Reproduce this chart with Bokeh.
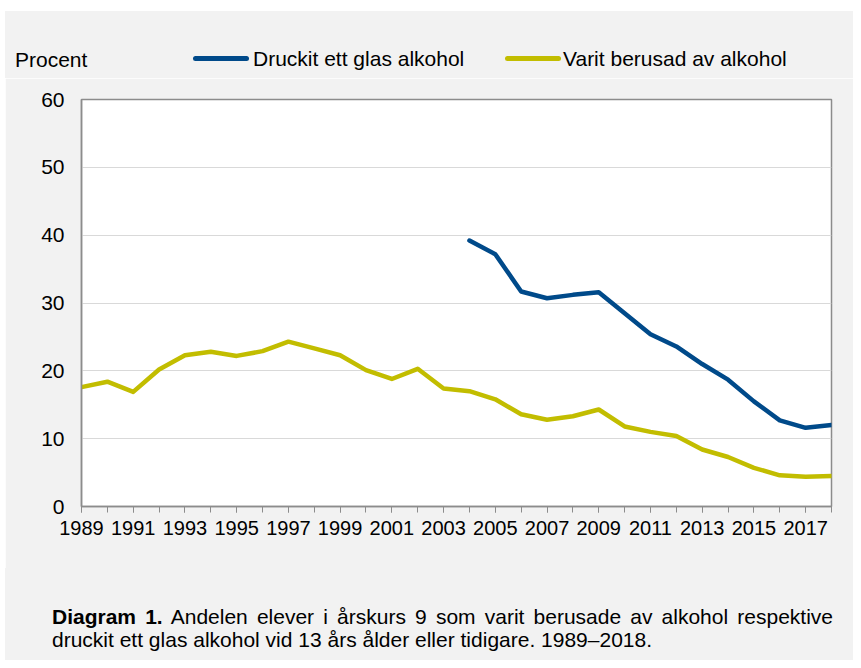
from bokeh.plotting import figure
from bokeh.models import Range1d, FixedTicker, Div
from bokeh.layouts import column, row
from bokeh.embed import file_html
from bokeh.resources import INLINE

# ---- data ----
years_drunk = [2004, 2005, 2006, 2007, 2008, 2009, 2010, 2011, 2012, 2013, 2014, 2015, 2016, 2017, 2018]
druckit = [39.2, 37.2, 31.7, 30.7, 31.2, 31.6, 28.5, 25.4, 23.6, 21.0, 18.7, 15.5, 12.7, 11.6, 12.0]

years_berusad = [1989, 1990, 1991, 1992, 1993, 1994, 1995, 1996, 1997, 1998, 1999, 2000, 2001, 2002, 2003,
                 2004, 2005, 2006, 2007, 2008, 2009, 2010, 2011, 2012, 2013, 2014, 2015, 2016, 2017, 2018]
berusad = [17.6, 18.4, 16.9, 20.2, 22.3, 22.8, 22.2, 22.9, 24.3, 23.3, 22.3, 20.1, 18.8, 20.3, 17.4,
           17.0, 15.8, 13.6, 12.8, 13.3, 14.3, 11.8, 11.0, 10.4, 8.4, 7.3, 5.7, 4.6, 4.4, 4.5]

x_label_years = [1989, 1991, 1993, 1995, 1997, 1999, 2001, 2003, 2005, 2007, 2009, 2011, 2013, 2015, 2017]
all_years = years_berusad
y_ticks = [0, 10, 20, 30, 40, 50, 60]

series_names = ["Druckit ett glas alkohol", "Varit berusad av alkohol"]
y_title = "Procent"
caption_bold = "Diagram 1."
caption_line1 = "Andelen elever i årskurs 9 som varit berusade av alkohol respektive"
caption_line2 = "druckit ett glas alkohol vid 13 års ålder eller tidigare. 1989–2018."

# ---- style ----
BLUE = "#004A8A"
YELLOW = "#C2BD00"
BG = "#F2F2F2"
AXIS = "#8C8C8C"
FONT = "Liberation Sans"
CSS_FONT = "'Liberation Sans', Arial, sans-serif"
CW = 848          # width of the grey panel column
TOP_H = 78
FIG_H = 490
CAP_H = 92

# ---- top strip: axis title + legend ----
top_html = f"""
<div style="position:relative;width:{CW}px;height:{TOP_H}px;font-family:{CSS_FONT};color:#000;font-size:21px;line-height:21px;">
  <div style="position:absolute;left:0;top:11px;width:{CW}px;height:{TOP_H - 11}px;background:{BG};"></div>
  <span style="position:absolute;left:10px;top:49px;white-space:nowrap;">{y_title}</span>
  <span style="position:absolute;left:188px;top:56px;width:56px;height:5px;border-radius:3px;background:{BLUE};"></span>
  <span style="position:absolute;left:248px;top:48px;white-space:nowrap;">{series_names[0]}</span>
  <span style="position:absolute;left:500px;top:56px;width:56px;height:5px;border-radius:3px;background:{YELLOW};"></span>
  <span style="position:absolute;left:558px;top:48px;white-space:nowrap;">{series_names[1]}</span>
</div>
"""
top_div = Div(text=top_html, width=CW, height=TOP_H, margin=0)

# ---- chart ----
p = figure(width=CW, height=FIG_H, output_backend="svg", toolbar_location=None,
           x_range=Range1d(1989, 2018), y_range=Range1d(0, 60),
           min_border_left=76, min_border_right=22, min_border_top=21, min_border_bottom=62,
           margin=0)
p.background_fill_color = "white"
p.border_fill_color = BG
p.outline_line_color = AXIS
p.outline_line_width = 1.5

p.line(years_drunk, druckit, line_color=BLUE, line_width=4.5, line_join="round", line_cap="round")
p.line(years_berusad, berusad, line_color=YELLOW, line_width=4.5, line_join="round", line_cap="round")

xa = p.xaxis[0]
xa.ticker = FixedTicker(ticks=x_label_years, minor_ticks=all_years)
xa.axis_line_color = AXIS
xa.axis_line_width = 1.5
xa.major_tick_line_color = AXIS
xa.minor_tick_line_color = AXIS
xa.major_tick_out = 6
xa.major_tick_in = 0
xa.minor_tick_out = 6
xa.minor_tick_in = 0
xa.major_label_text_font = FONT
xa.major_label_text_font_size = "20px"
xa.major_label_text_color = "black"
xa.major_label_standoff = 8

ya = p.yaxis[0]
ya.ticker = FixedTicker(ticks=y_ticks)
ya.axis_line_color = AXIS
ya.axis_line_width = 1.5
ya.major_tick_out = 0
ya.major_tick_in = 0
ya.minor_tick_line_color = None
ya.major_label_text_font = FONT
ya.major_label_text_font_size = "21px"
ya.major_label_text_color = "black"
ya.major_label_standoff = 17

p.xgrid.grid_line_color = None
p.ygrid.grid_line_color = "#D9D9D9"
p.ygrid.grid_line_width = 1

# ---- caption ----
cap_html = f"""
<div style="position:relative;width:{CW}px;height:{CAP_H}px;background:{BG};font-family:{CSS_FONT};color:#000;font-size:21px;line-height:23px;">
  <div style="position:absolute;left:47px;top:37px;width:781px;white-space:nowrap;text-align:justify;text-align-last:justify;">
    <b>{caption_bold}</b> <span>{caption_line1}</span>
  </div>
  <div style="position:absolute;left:47px;top:60px;white-space:nowrap;">{caption_line2}</div>
</div>
"""
cap_div = Div(text=cap_html, width=CW, height=CAP_H, margin=0, styles={"background-color": BG})

spacer = Div(text="", width=5, height=TOP_H + FIG_H + CAP_H, margin=0)
layout = row(spacer, column(top_div, p, cap_div, spacing=0, margin=0), spacing=0, margin=0)
open("out.html", "w").write(file_html(layout, INLINE))
